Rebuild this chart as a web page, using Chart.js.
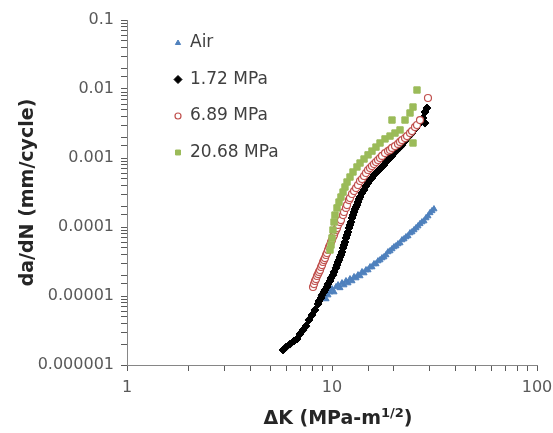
<!DOCTYPE html>
<html>
<head>
<meta charset="utf-8">
<script src="https://cdn.jsdelivr.net/npm/chart.js@4.4.1/dist/chart.umd.min.js"></script>
<style>
    html, body { margin: 0; padding: 0; background: #fff; }
    #wrap { width: 553px; height: 433px; }
</style>
</head>
<body>
<div id="wrap"><canvas id="crackChart" width="553" height="433"></canvas></div>
<script>
// Fatigue crack growth rate vs stress intensity range
const seriesNames = ['Air', '1.72 MPa', '6.89 MPa', '20.68 MPa'];

const airK = [9.35, 9.56, 9.78, 10.0, 10.23, 10.46, 10.70, 10.94, 11.19, 11.44, 11.70, 11.97, 12.24, 12.52,
    12.81, 13.10, 13.39, 13.70, 14.01, 14.33, 14.65, 14.99, 15.33, 15.67, 16.03, 16.39, 16.77, 17.15, 17.54,
    17.93, 18.34, 18.76, 19.19, 19.62, 20.07, 20.52, 20.99, 21.47, 21.95, 22.45, 22.96, 23.48, 24.02, 24.56,
    25.12, 25.69, 26.27, 26.87, 27.48, 28.10, 28.74, 29.39, 30.06, 30.74, 31.44];
const airRate = [9.05e-6, 1.03e-5, 1.14e-5, 1.26e-5, 1.14e-5, 1.35e-5, 1.44e-5, 1.31e-5, 1.54e-5, 1.44e-5,
    1.65e-5, 1.54e-5, 1.76e-5, 1.65e-5, 1.89e-5, 1.82e-5, 2.01e-5, 1.95e-5, 2.23e-5, 2.15e-5, 2.38e-5, 2.38e-5,
    2.63e-5, 2.63e-5, 2.91e-5, 2.91e-5, 3.21e-5, 3.32e-5, 3.55e-5, 3.67e-5, 3.93e-5, 4.34e-5, 4.49e-5, 4.80e-5,
    5.13e-5, 5.30e-5, 5.67e-5, 5.86e-5, 6.48e-5, 6.70e-5, 7.16e-5, 7.41e-5, 8.18e-5, 8.46e-5, 9.05e-5, 9.67e-5,
    1.03e-4, 1.11e-4, 1.18e-4, 1.22e-4, 1.35e-4, 1.44e-4, 1.60e-4, 1.71e-4, 1.82e-4];

const lowK = [5.77, 5.97, 6.24, 6.53, 6.75, 6.98, 7.22, 7.47, 7.72, 7.99, 8.26, 8.55, 8.64, 8.84, 8.94, 9.14,
    9.24, 9.45, 9.56, 9.78, 9.89, 10.11, 10.23, 10.46, 10.58, 10.70, 10.82, 10.94, 11.06, 11.19, 11.32, 11.44,
    11.57, 11.70, 11.84, 11.97, 12.10, 12.24, 12.38, 12.52, 12.66, 12.81, 12.95, 13.10, 13.24, 13.39, 13.55,
    13.70, 14.01, 14.33, 14.65, 14.99, 15.33, 15.67, 16.03, 16.39, 16.77, 17.15, 17.54, 17.93, 18.34, 18.76,
    19.19, 19.62, 20.07, 20.52, 20.99, 21.47, 21.95, 22.45, 22.96, 23.48, 24.02, 24.56, 25.12, 25.69, 26.27,
    26.87, 27.79, 28.42, 28.42, 29.06];
const lowRate = [1.65e-6, 1.82e-6, 2.01e-6, 2.23e-6, 2.38e-6, 2.81e-6, 3.21e-6, 3.67e-6, 4.49e-6, 5.30e-6,
    6.27e-6, 7.66e-6, 8.46e-6, 9.35e-6, 1.03e-5, 1.14e-5, 1.22e-5, 1.35e-5, 1.49e-5, 1.65e-5, 1.82e-5, 2.01e-5,
    2.23e-5, 2.55e-5, 2.81e-5, 3.11e-5, 3.32e-5, 3.67e-5, 3.93e-5, 4.34e-5, 4.96e-5, 5.48e-5, 6.06e-5, 6.93e-5,
    7.66e-5, 8.46e-5, 9.67e-5, 1.07e-4, 1.18e-4, 1.35e-4, 1.49e-4, 1.65e-4, 1.82e-4, 1.95e-4, 2.08e-4, 2.30e-4,
    2.54e-4, 2.72e-4, 3.11e-4, 3.44e-4, 3.93e-4, 4.34e-4, 4.80e-4, 5.13e-4, 5.67e-4, 6.06e-4, 6.48e-4, 6.93e-4,
    7.41e-4, 7.91e-4, 8.75e-4, 9.35e-4, 1.00e-3, 1.07e-3, 1.18e-3, 1.26e-3, 1.35e-3, 1.44e-3, 1.54e-3, 1.71e-3,
    1.82e-3, 2.01e-3, 2.15e-3, 2.30e-3, 2.55e-3, 2.72e-3, 3.01e-3, 3.32e-3, 3.80e-3, 3.21e-3, 4.64e-3, 5.30e-3];

const midK = [8.08, 8.17, 8.26, 8.36, 8.45, 8.55, 8.64, 8.74, 8.84, 8.94, 9.04, 9.14, 9.24, 9.35, 9.45, 9.56,
    9.67, 9.78, 9.89, 10.0, 10.11, 10.23, 10.34, 10.46, 10.58, 10.70, 10.94, 11.06, 11.32, 11.44, 11.70, 11.84,
    12.10, 12.24, 12.52, 12.81, 13.10, 13.39, 13.70, 14.01, 14.33, 14.65, 14.99, 15.33, 15.67, 16.03, 16.39,
    16.77, 17.15, 17.54, 18.14, 18.76, 19.19, 19.62, 20.29, 20.99, 21.47, 21.95, 22.71, 23.22, 24.02, 24.56,
    25.40, 25.98, 26.87, 29.39];
const midRate = [1.35e-5, 1.49e-5, 1.65e-5, 1.76e-5, 1.95e-5, 2.08e-5, 2.23e-5, 2.38e-5, 2.63e-5, 2.81e-5,
    3.11e-5, 3.32e-5, 3.55e-5, 3.93e-5, 4.20e-5, 4.64e-5, 5.13e-5, 5.48e-5, 6.06e-5, 6.48e-5, 7.16e-5, 7.66e-5,
    8.46e-5, 9.05e-5, 9.67e-5, 1.07e-4, 1.18e-4, 1.26e-4, 1.49e-4, 1.65e-4, 1.89e-4, 2.08e-4, 2.46e-4, 2.63e-4,
    3.01e-4, 3.32e-4, 3.67e-4, 4.06e-4, 4.64e-4, 4.96e-4, 5.48e-4, 6.06e-4, 6.70e-4, 7.16e-4, 7.66e-4, 8.18e-4,
    8.75e-4, 9.35e-4, 1.00e-3, 1.07e-3, 1.18e-3, 1.26e-3, 1.31e-3, 1.40e-3, 1.49e-3, 1.60e-3, 1.71e-3, 1.82e-3,
    1.95e-3, 2.08e-3, 2.30e-3, 2.46e-3, 2.81e-3, 3.01e-3, 3.55e-3, 7.41e-3];

const highK = [9.78, 9.89, 10.0, 10.11, 10.23, 10.34, 10.58, 10.82, 11.06, 11.32, 11.57, 11.84, 12.24, 12.66,
    13.24, 13.70, 14.33, 14.99, 15.67, 16.39, 17.15, 18.14, 19.19, 19.62, 20.29, 21.47, 22.71, 24.02, 24.84,
    24.84, 25.98];
const highRate = [4.64e-5, 5.48e-5, 6.93e-5, 9.05e-5, 1.18e-4, 1.49e-4, 1.89e-4, 2.30e-4, 2.72e-4, 3.21e-4,
    3.80e-4, 4.49e-4, 5.30e-4, 6.27e-4, 7.41e-4, 8.46e-4, 9.67e-4, 1.11e-3, 1.26e-3, 1.44e-3, 1.65e-3, 1.89e-3,
    2.08e-3, 3.55e-3, 2.30e-3, 2.55e-3, 3.55e-3, 4.49e-3, 5.48e-3, 1.65e-3, 9.67e-3];

const xTickValues = [1, 10, 100];
const xTickLabels = ['1', '10', '100'];
const yTickValues = [1e-6, 1e-5, 1e-4, 1e-3, 1e-2, 1e-1];
const yTickLabels = ['0.000001', '0.00001', '0.0001', '0.001', '0.01', '0.1'];

const FONT = "'DejaVu Sans', sans-serif";
const TEXT_COLOR = '#595959';
const AXIS_COLOR = '#868686';

function toPoints(xs, ys) {
    return xs.map((x, i) => ({ x: x, y: ys[i] }));
}

function labelFor(values, labels, v) {
    const i = values.findIndex(d => Math.abs(v / d - 1) < 1e-6);
    return i >= 0 ? labels[i] : '';
}

// legend, axis titles (superscript in the x title)
const decorPlugin = {
    id: 'decor',
    afterDraw(chart) {
        const ctx = chart.ctx;
        const area = chart.chartArea;
        ctx.save();

        // legend
        const lx = area.left + 51;
        const ly = area.top + 23;
        const rowGap = 36.5;
        chart.data.datasets.forEach((ds, i) => {
            const y = ly + i * rowGap;
            ctx.fillStyle = ds.backgroundColor;
            ctx.strokeStyle = ds.borderColor;
            ctx.lineWidth = ds.borderWidth;
            Chart.helpers.drawPoint(ctx, {
                pointStyle: ds.pointStyle,
                radius: ds.legendRadius,
                borderWidth: ds.borderWidth,
                rotation: 0
            }, lx, y);
            ctx.fillStyle = '#404040';
            ctx.font = '17px ' + FONT;
            ctx.textAlign = 'left';
            ctx.textBaseline = 'middle';
            ctx.fillText(ds.label, lx + 12, y);
        });

        // y title
        ctx.fillStyle = '#262626';
        ctx.font = 'bold 19px ' + FONT;
        ctx.textAlign = 'center';
        ctx.textBaseline = 'middle';
        ctx.translate(28, (area.top + area.bottom) / 2);
        ctx.rotate(-Math.PI / 2);
        ctx.fillText('da/dN (mm/cycle)', 0, 0);
        ctx.setTransform(1, 0, 0, 1, 0, 0);

        // x title with superscript
        const mainText = 'ΔK (MPa-m';
        const supText = '1/2';
        const closeText = ')';
        ctx.font = 'bold 19px ' + FONT;
        const w1 = ctx.measureText(mainText).width;
        const w3 = ctx.measureText(closeText).width;
        ctx.font = 'bold 13px ' + FONT;
        const w2 = ctx.measureText(supText).width;
        const total = w1 + w2 + w3;
        let x = (area.left + area.right) / 2 + 6 - total / 2;
        const baseY = 424;
        ctx.textAlign = 'left';
        ctx.textBaseline = 'alphabetic';
        ctx.font = 'bold 19px ' + FONT;
        ctx.fillText(mainText, x, baseY);
        x += w1;
        ctx.font = 'bold 13px ' + FONT;
        ctx.fillText(supText, x, baseY - 7);
        x += w2;
        ctx.font = 'bold 19px ' + FONT;
        ctx.fillText(closeText, x, baseY);
        ctx.restore();
    }
};

// grid lines hidden inside the plot, only the short tick marks at each log step
const tickMarks = {
    display: true,
    drawOnChartArea: false,
    drawTicks: true,
    tickLength: 6,
    tickWidth: 1,
    tickColor: '#5a5a5a',
    color: '#5a5a5a'
};

const ctx = document.getElementById('crackChart').getContext('2d');
const chart = new Chart(ctx, {
    type: 'scatter',
    data: {
        datasets: [
            {
                label: seriesNames[0],
                data: toPoints(airK, airRate),
                pointStyle: 'triangle',
                backgroundColor: '#4F81BD',
                borderColor: '#4F81BD',
                borderWidth: 1,
                pointRadius: 3.5,
                legendRadius: 3,
                order: 4
            },
            {
                label: seriesNames[1],
                data: toPoints(lowK, lowRate),
                pointStyle: 'rectRot',
                backgroundColor: '#000000',
                borderColor: '#000000',
                borderWidth: 1,
                pointRadius: 4,
                legendRadius: 4,
                order: 3
            },
            {
                label: seriesNames[2],
                data: toPoints(midK, midRate),
                pointStyle: 'circle',
                backgroundColor: '#ffffff',
                borderColor: '#C0504D',
                borderWidth: 1.2,
                pointRadius: 3.5,
                legendRadius: 3,
                order: 2
            },
            {
                label: seriesNames[3],
                data: toPoints(highK, highRate),
                pointStyle: 'rect',
                backgroundColor: '#9BBB59',
                borderColor: '#9BBB59',
                borderWidth: 1,
                pointRadius: 4.5,
                legendRadius: 3.5,
                order: 1
            }
        ]
    },
    options: {
        responsive: false,
        animation: false,
        layout: { padding: 0 },
        plugins: {
            legend: { display: false },
            tooltip: { enabled: false }
        },
        scales: {
            x: {
                type: 'logarithmic',
                position: 'bottom',
                min: 1,
                max: 100,
                afterFit(scale) {
                    scale.height = 68;
                    scale.paddingRight = 16;
                    scale.paddingLeft = 0;
                },
                grid: tickMarks,
                border: { color: AXIS_COLOR, width: 1 },
                ticks: {
                    autoSkip: false,
                    maxRotation: 0,
                    padding: 7,
                    color: TEXT_COLOR,
                    font: { family: FONT, size: 16 },
                    callback: v => labelFor(xTickValues, xTickLabels, v)
                }
            },
            y: {
                type: 'logarithmic',
                position: 'left',
                min: 1e-6,
                max: 0.1,
                afterFit(scale) {
                    scale.width = 127;
                    scale.paddingTop = 20;
                    scale.paddingBottom = 0;
                },
                grid: tickMarks,
                border: { color: AXIS_COLOR, width: 1 },
                ticks: {
                    autoSkip: false,
                    padding: 7,
                    color: TEXT_COLOR,
                    font: { family: FONT, size: 16 },
                    callback: v => labelFor(yTickValues, yTickLabels, v)
                }
            }
        }
    },
    plugins: [decorPlugin]
});
</script>
</body>
</html>
